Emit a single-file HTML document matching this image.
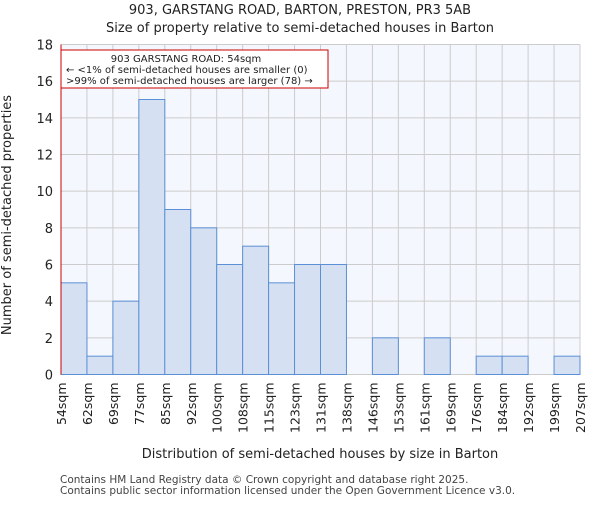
<!DOCTYPE html>
<html><head><meta charset="utf-8"><style>
body{margin:0;background:#fff;font-family:"Liberation Sans","DejaVu Sans",sans-serif}
svg text{font-family:"DejaVu Sans","Liberation Sans",sans-serif}
</style></head><body>
<svg id="c" width="600" height="500"></svg>
<script>
const labels=["54sqm","62sqm","69sqm","77sqm","85sqm","92sqm","100sqm","108sqm","115sqm","123sqm","131sqm","138sqm","146sqm","153sqm","161sqm","169sqm","176sqm","184sqm","192sqm","199sqm","207sqm"];
const counts=[5,1,4,15,9,8,6,7,5,6,6,0,2,0,2,0,1,1,0,1];
const yTicks=[0,2,4,6,8,10,12,14,16,18];
const NS="http://www.w3.org/2000/svg";
const svg=document.getElementById('c');
const L=61,R=580,T=44.5,B=374.5,ymax=18;
const n=counts.length;
const x=i=>L+(R-L)*i/n;
const y=v=>B-(B-T)*v/ymax;
function mk(t,a,p){const e=document.createElementNS(NS,t);for(const k in a)e.setAttribute(k,a[k]);(p||svg).appendChild(e);return e;}
const bg=mk('rect',{x:L,y:T,width:R-L,height:B-T,fill:'#f4f7fd'});


yTicks.forEach(v=>{const g=mk('line',{x1:L,x2:R,y1:y(v),y2:y(v),stroke:'#cccccc','stroke-width':1});


const t=mk('text',{x:L-8,y:y(v)+5,'text-anchor':'end','font-size':13,fill:'#222'});t.textContent=v;

});
labels.forEach((s,i)=>{const g=mk('line',{x1:x(i),x2:x(i),y1:T,y2:B,stroke:'#cccccc','stroke-width':1});


const t=mk('text',{x:0,y:0,'text-anchor':'end','font-size':12.5,fill:'#222',transform:`translate(${x(i)+5},${B+8}) rotate(-90)`});t.textContent=s;

});
counts.forEach((v,i)=>{const r=mk('rect',{x:x(i),y:y(v),width:x(i+1)-x(i),height:B-y(v),fill:'#d6e0f3',stroke:'#5b8fd6','stroke-width':1});

});
const rl=mk('line',{x1:L,x2:L,y1:T,y2:B,stroke:'#cc0000','stroke-width':1});


</script>
<svg width="600" height="500" style="position:absolute;left:0;top:0">
<text x="300" y="14" text-anchor="middle" font-size="13" fill="#222">903, GARSTANG ROAD, BARTON, PRESTON, PR3 5AB</text>
<text x="300" y="32" text-anchor="middle" font-size="13" fill="#222">Size of property relative to semi-detached houses in Barton</text>
<rect x="61" y="50" width="267" height="38" fill="#fff" stroke="#cc0000"/>
<text x="186" y="62" text-anchor="middle" font-size="10" fill="#222">903 GARSTANG ROAD: 54sqm</text>
<text x="66" y="73" font-size="10" fill="#222">← &lt;1% of semi-detached houses are smaller (0)</text>
<text x="66" y="84" font-size="10" fill="#222">&gt;99% of semi-detached houses are larger (78) →</text>
<text x="0" y="0" transform="translate(11,215) rotate(-90)" text-anchor="middle" font-size="13" fill="#222">Number of semi-detached properties</text>
<text x="320" y="458" text-anchor="middle" font-size="13" fill="#222">Distribution of semi-detached houses by size in Barton</text>
<text x="60" y="483" font-size="10.5" fill="#444">Contains HM Land Registry data © Crown copyright and database right 2025.</text>
<text x="60" y="494" font-size="10.5" fill="#444">Contains public sector information licensed under the Open Government Licence v3.0.</text>
</svg>
</body></html>
